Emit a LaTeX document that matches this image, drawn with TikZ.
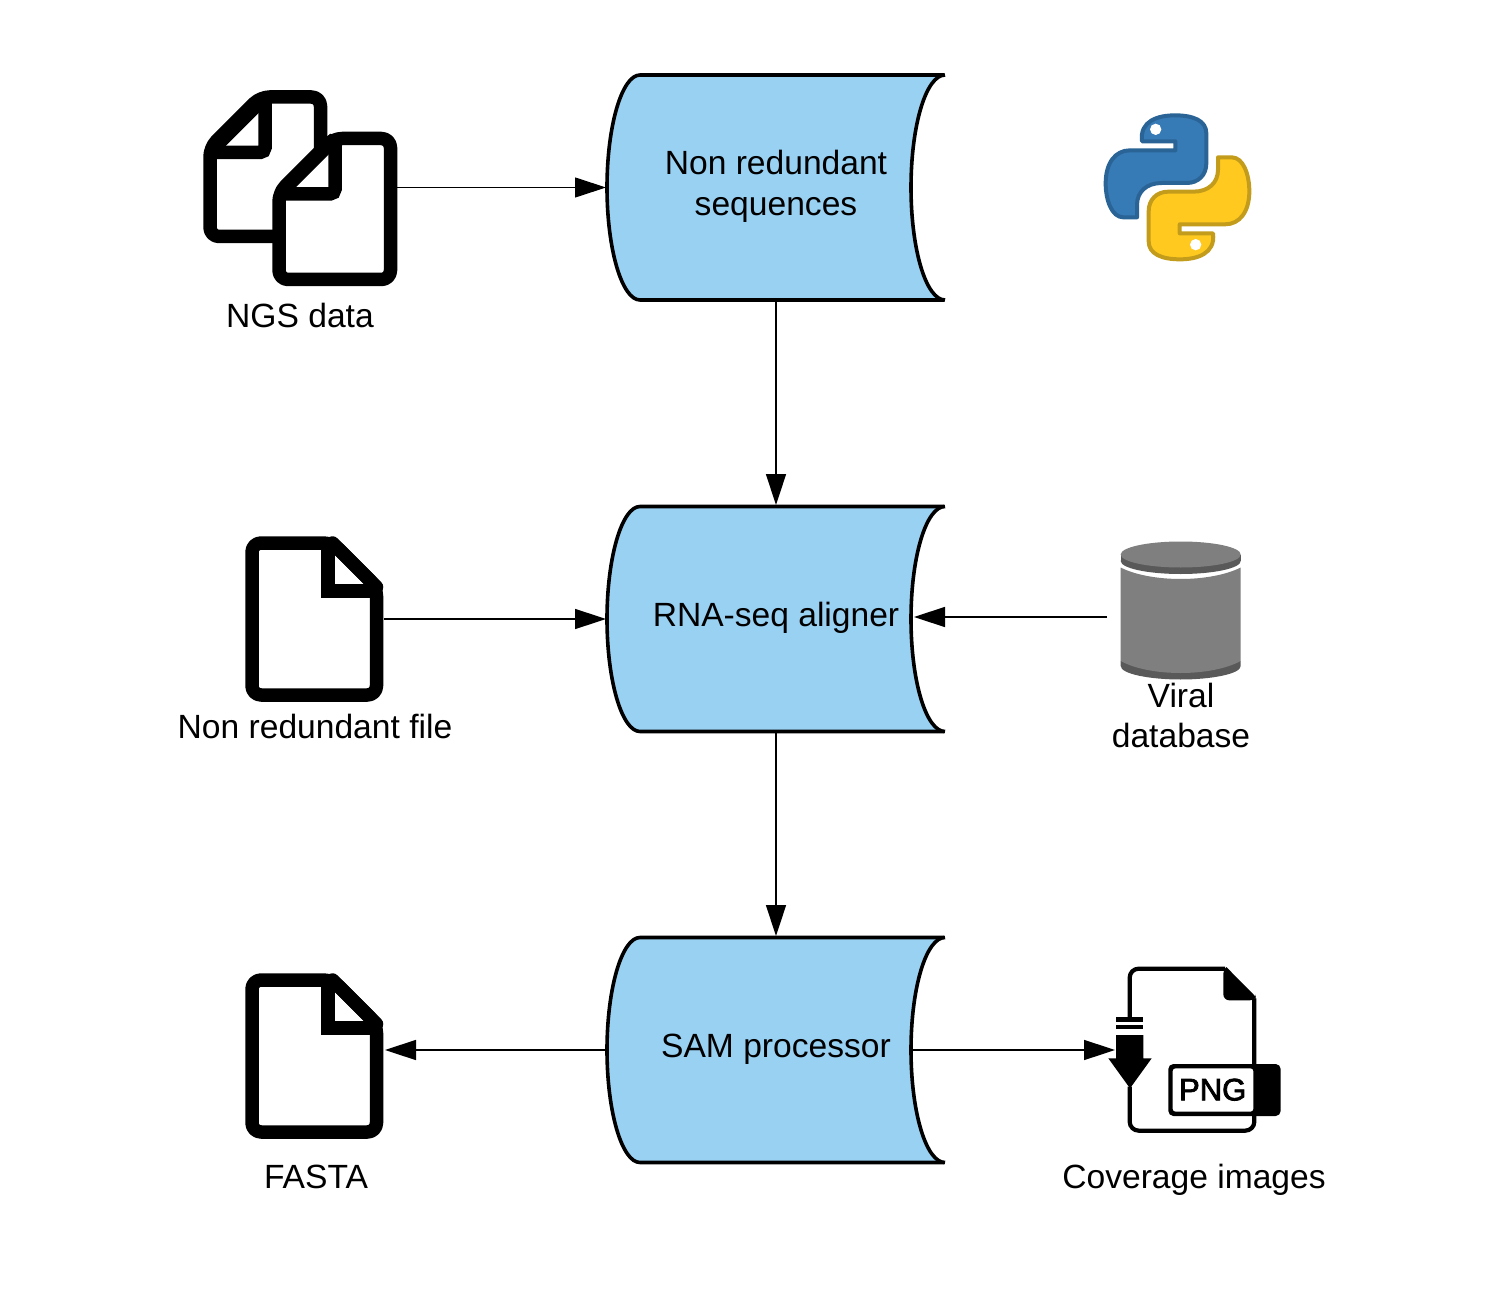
\documentclass[tikz,border=0pt]{standalone}
\usepackage{fontspec}
\setmainfont{Liberation Sans}
\newfontfamily\pngfont[FakeBold=2.5]{Liberation Sans}
\usetikzlibrary{arrows.meta}
\definecolor{procblue}{HTML}{99D1F3}
\definecolor{pyblue}{HTML}{367AB6}
\definecolor{pybluedark}{HTML}{2A6496}
\definecolor{pyyellow}{HTML}{FFC91F}
\definecolor{pyyellowdark}{HTML}{C39C1C}
\definecolor{dbgray}{HTML}{7F7F7F}
\definecolor{dbdark}{HTML}{595959}
\tikzset{
  procbox/.style={rectangle,inner sep=0pt,outer sep=0pt,minimum width=338pt,minimum height=226pt},
  iconbox/.style={rectangle,inner sep=0pt,outer sep=0pt},
  txt/.style={inner sep=0pt,outer sep=0pt,align=center,font=\fontsize{33.6}{40.5}\selectfont},
  link/.style={line width=1.5pt,shorten >=1pt,-{Triangle[length=31pt,width=20pt]}},
  doc/.style={line width=13.5pt,line join=round,rounded corners=9pt,fill=white},
  fold/.style={line width=13.5pt,line join=miter},
}
\newcommand{\procshape}[2]{%
  \path[fill=procblue,draw=black,line width=3.6pt,line join=round]
    (#1+168,#2-112.5) -- (#1-136,#2-112.5)
    .. controls (#1-154,#2-112.5) and (#1-169,#2-62) .. (#1-169,#2)
    .. controls (#1-169,#2+62) and (#1-154,#2+112.5) .. (#1-136,#2+112.5)
    -- (#1+168,#2+112.5);
  \path[fill=white,draw=black,line width=3.6pt]
    (#1+169,#2+112.5)
    .. controls (#1+150,#2+112.5) and (#1+135,#2+62) .. (#1+135,#2)
    .. controls (#1+135,#2-62) and (#1+150,#2-112.5) .. (#1+169,#2-112.5);
}
\newcommand{\onedoc}[1]{%
  \begin{scope}[shift={(0,#1)}]
    \draw[doc] (332.5,543) -- (252,543) -- (252,695) -- (376.5,695) -- (376.5,587) -- cycle;
    \draw[line width=13.5pt,line cap=round] (332.5,543) -- (376.5,587);
    \draw[fold] (328,540) -- (328,591) -- (376.5,591);
  \end{scope}
}
\begin{document}
\begin{tikzpicture}[x=1pt,y=-1pt]
\useasboundingbox (0,0) rectangle (1494,1313);
\fill[white] (0,0) rectangle (1494,1313);

% process shapes
\procshape{776}{187.5}
\procshape{776}{619}
\procshape{776}{1050}
\node[procbox] (seq) at (776,187.5) {};
\node[procbox] (align) at (776,619) {};
\node[procbox] (sam) at (776,1050) {};
\coordinate (alignin) at (913,617);
\coordinate (samout) at (911,1050);
\node[txt] (seqt) at (776,186.5) {Non redundant\\sequences};
\node[txt,anchor=base] (alignt) at (776,626) {RNA-seq aligner};
\node[txt,anchor=base] (samt) at (776,1057) {SAM processor};

% NGS documents
\draw[doc] (260.5,97) -- (320.5,97) -- (320.5,236.5) -- (210,236.5) -- (210,147.5) -- cycle;
\draw[line width=13.5pt] (265,97) -- (210,152);
\draw[fold,rounded corners=5pt] (265,94) -- (265,152.5) -- (210,152.5);
\draw[doc] (333,138.5) -- (390.5,138.5) -- (390.5,279.5) -- (279,279.5) -- (279,192.5) -- cycle;
\draw[line width=13.5pt] (335,138.5) -- (280.5,193);
\draw[fold,rounded corners=5pt] (335,136) -- (335,194) -- (279,194);
\node[iconbox,minimum width=194pt,minimum height=196pt] (ngs) at (300,187.5) {};
\node[txt,anchor=base] (ngst) at (300,328) {NGS data};

% single documents
\onedoc{0}
\node[iconbox,minimum width=138pt,minimum height=166pt] (nrf) at (315,619) {};
\node[txt,anchor=base] (nrft) at (315,738) {Non redundant file};
\onedoc{437}
\node[iconbox,minimum width=138pt,minimum height=166pt] (fasta) at (315,1050) {};
\node[txt,anchor=base] (fastat) at (316,1188) {FASTA};

% python logo
\begin{scope}[shift={(1090,100)},x=0.33333pt,y=-0.33333pt]
  \def\snake{(156,124)
    .. controls (148,62) and (205,46) .. (255,46)
    .. controls (310,46) and (349,62) .. (349,100) -- (349,190)
    .. controls (349,225) and (325,249) .. (290,249) -- (215,249)
    .. controls (170,249) and (141,275) .. (141,315) -- (141,352) -- (100,352)
    .. controls (65,352) and (47,300) .. (47,250)
    .. controls (47,190) and (75,151) .. (120,151) -- (256,151) -- (256,124) -- cycle}
  \path[fill=pyblue,draw=pybluedark,line width=4pt,line join=round] \snake;
  \fill[white] (197,88) circle [radius=17];
  \begin{scope}[rotate around={180:(262.5,262)}]
    \path[fill=pyyellow,draw=pyyellowdark,line width=4pt,line join=round] \snake;
    \fill[white] (208,90) circle [radius=17];
  \end{scope}
\end{scope}
\node[iconbox,minimum width=147pt,minimum height=148pt] (py) at (1177.5,187) {};

% viral database
\path[fill=dbdark] (1120.7,661) -- (1120.7,666)
  .. controls (1120.7,674) and (1150,679.5) .. (1180.7,679.5)
  .. controls (1211,679.5) and (1240.7,674) .. (1240.7,666) -- (1240.7,661) -- cycle;
\path[fill=dbgray] (1120.7,567.5)
  .. controls (1135,575) and (1158,579) .. (1180.7,579)
  .. controls (1203,579) and (1226,575) .. (1240.7,567.5)
  -- (1240.7,661)
  .. controls (1226,669) and (1203,673) .. (1180.7,673)
  .. controls (1158,673) and (1135,669) .. (1120.7,661) -- cycle;
\fill[dbdark] (1180.7,561) ellipse [x radius=60,y radius=13];
\fill[dbdark] (1120.7,554.5) rectangle (1240.7,561);
\fill[dbgray] (1180.7,554.5) ellipse [x radius=60,y radius=13];
\node[iconbox,minimum width=150pt,minimum height=140pt] (db) at (1182,610) {};
\coordinate (dbout) at (1107,617);
\node[txt] (dbt) at (1181,715.5) {Viral\\database};

% PNG file
\begin{scope}[shift={(1090,955)},x=0.33333pt,y=-0.33333pt]
  \draw[line width=4.2pt,line join=round,rounded corners=9pt] (119,188) -- (119,41) -- (405,41);
  \draw[line width=4.2pt,line join=round] (405,41) -- (493,130);
  \draw[line width=4.2pt,line join=round,rounded corners=9pt] (493,130) -- (493,527) -- (119,527) -- (119,395);
  \fill[rounded corners=6pt] (400,38) -- (497,128) -- (497,136) -- (400,136) -- cycle;
  \fill (77,185) rectangle (160,200);
  \fill (77,211) rectangle (160,221);
  \fill (78,240) -- (160,240) -- (160,310) -- (185,310) -- (120,400) -- (55,310) -- (78,310) -- cycle;
  \fill[rounded corners=5pt] (235,327) rectangle (572,483);
  \fill[white,rounded corners=3pt] (248,340) rectangle (490,470);
  \node[inner sep=0pt,outer sep=0pt,font=\pngfont\fontsize{31}{31}\selectfont] (pngt) at (368,404) {PNG};
\end{scope}
\node[iconbox,minimum width=173pt,minimum height=166pt] (png) at (1194.5,1050) {};
\coordinate (pngin) at (1116,1050);
\node[txt,anchor=base] (pngl) at (1194,1188) {Coverage images};

% connectors
\draw[link,line width=1.1pt] (ngs.east) -- (seq.west);
\draw[link] (seq.south) -- (align.north);
\draw[link] (nrf.east) -- (align.west);
\draw[link] (dbout) -- (alignin);
\draw[link] (align.south) -- (sam.north);
\draw[link] (sam.west) -- (fasta.east);
\draw[link] (samout) -- (pngin);
\end{tikzpicture}
\end{document}
